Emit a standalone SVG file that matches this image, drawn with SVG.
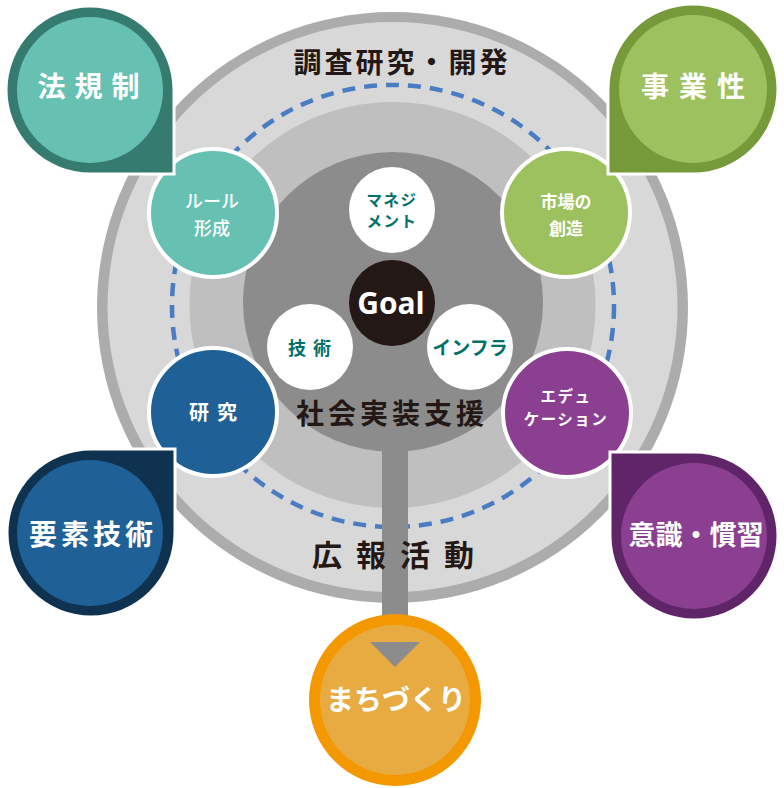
<svg xmlns="http://www.w3.org/2000/svg" width="784" height="788" viewBox="0 0 784 788">
<style>
text{font-family:"Noto Sans CJK JP","Noto Sans",sans-serif;font-weight:700;text-anchor:middle}
.dark{fill:#231815}
.w{fill:#ffffff}
.teal{fill:#00706b}
.med{font-weight:500}
.ring{stroke:#ffffff;stroke-width:4}
.tear{stroke:#ffffff;stroke-width:3}
</style>
<rect width="784" height="788" fill="#ffffff"/>
<g id="rings">
<circle cx="392.5" cy="307.5" r="295.5" fill="#acacac"/>
<circle cx="392.5" cy="307" r="285" fill="#d9d8d8"/>
<circle cx="392.5" cy="305" r="203" fill="#bfbfbf"/>
<circle cx="393" cy="302" r="150" fill="#8c8c8c"/>
<circle cx="393" cy="306" r="221" fill="none" stroke="#4a7cc4" stroke-width="4.5" stroke-dasharray="13 9"/>
<text class="dark" x="402" y="73" font-size="28" letter-spacing="3">調査研究・開発</text>
<text class="dark" x="392" y="424" font-size="28" letter-spacing="4">社会実装支援</text>
</g>
<g id="connectors">
<rect x="382" y="440" width="26" height="204" fill="#8c8c8c"/>
</g>
<g id="kouhou">
<text class="dark" x="400" y="566" font-size="30" letter-spacing="14">広報活動</text>
</g>
<g id="machidukuri">
<circle cx="395" cy="700" r="86" fill="#f39800"/>
<circle cx="395" cy="700" r="75" fill="#e8ab41"/>
<polygon points="370,642 420,642 395,667" fill="#8c8c8c"/>
<text class="w" x="396" y="710" font-size="28">まちづくり</text>
</g>
<g id="goal">
<circle cx="392" cy="303" r="43" fill="#231815"/>
<text class="w" x="391" y="314" font-size="30" style="font-family:'Open Sans','Noto Sans',sans-serif">Goal</text>
</g>
<g id="management">
<circle cx="392" cy="210" r="43" fill="#ffffff"/>
<text class="teal" x="392" y="206" font-size="15.5" letter-spacing="1.5">マネジ</text>
<text class="teal" x="392" y="227" font-size="15.5" letter-spacing="1.5">メント</text>
</g>
<g id="gijutsu">
<circle cx="310" cy="347" r="43" fill="#ffffff"/>
<text class="teal" x="313" y="355" font-size="18" letter-spacing="7">技術</text>
</g>
<g id="infra">
<circle cx="470" cy="347" r="43" fill="#ffffff"/>
<text class="teal" x="470" y="355" font-size="19">インフラ</text>
</g>
<g id="rule">
<circle class="ring" cx="213" cy="213" r="64" fill="#67c1b3"/>
<text class="w med" x="212" y="208" font-size="18">ルール</text>
<text class="w med" x="212" y="235" font-size="18">形成</text>
</g>
<g id="market">
<circle class="ring" cx="566" cy="213" r="64" fill="#9dc15e"/>
<text class="w" x="566" y="208" font-size="17">市場の</text>
<text class="w" x="566" y="235" font-size="17">創造</text>
</g>
<g id="kenkyu">
<circle class="ring" cx="213" cy="412" r="64" fill="#1f6096"/>
<text class="w" x="217" y="420" font-size="20" letter-spacing="8">研究</text>
</g>
<g id="education">
<circle class="ring" cx="567" cy="413" r="64" fill="#8b3f91"/>
<text class="w" x="566" y="402" font-size="15.5" letter-spacing="1.5">エデュ</text>
<text class="w" x="566" y="425" font-size="15.5" letter-spacing="1.5">ケーション</text>
</g>
<g id="houkisei">
<path class="tear" d="M174,90 L174,174 L90,174 A84,84 0 1 1 174,90 Z" fill="#357b70"/>
<circle cx="90" cy="90" r="73" fill="#67c1b3"/>
<text class="w" x="93" y="97" font-size="28" letter-spacing="9">法規制</text>
</g>
<g id="jigyousei">
<path class="tear" d="M608,89 L608,174 L693,174 A85,85 0 1 0 608,89 Z" fill="#76993a"/>
<circle cx="693" cy="89" r="74" fill="#9dc15e"/>
<text class="w" x="698" y="97" font-size="28" letter-spacing="10">事業性</text>
</g>
<g id="yousogijutsu">
<path class="tear" d="M91,449 L175,449 L175,533 A84,84 0 1 1 91,449 Z" fill="#0e3250"/>
<circle cx="90" cy="533" r="73" fill="#1f6096"/>
<text class="w" x="93" y="545" font-size="28" letter-spacing="4">要素技術</text>
</g>
<g id="ishiki">
<path class="tear" d="M694,452 L610,452 L610,536 A84,84 0 1 0 694,452 Z" fill="#5f2568"/>
<circle cx="694" cy="536" r="73" fill="#8b3f91"/>
<text class="w" x="696" y="545" font-size="27">意識・慣習</text>
</g>
</svg>
